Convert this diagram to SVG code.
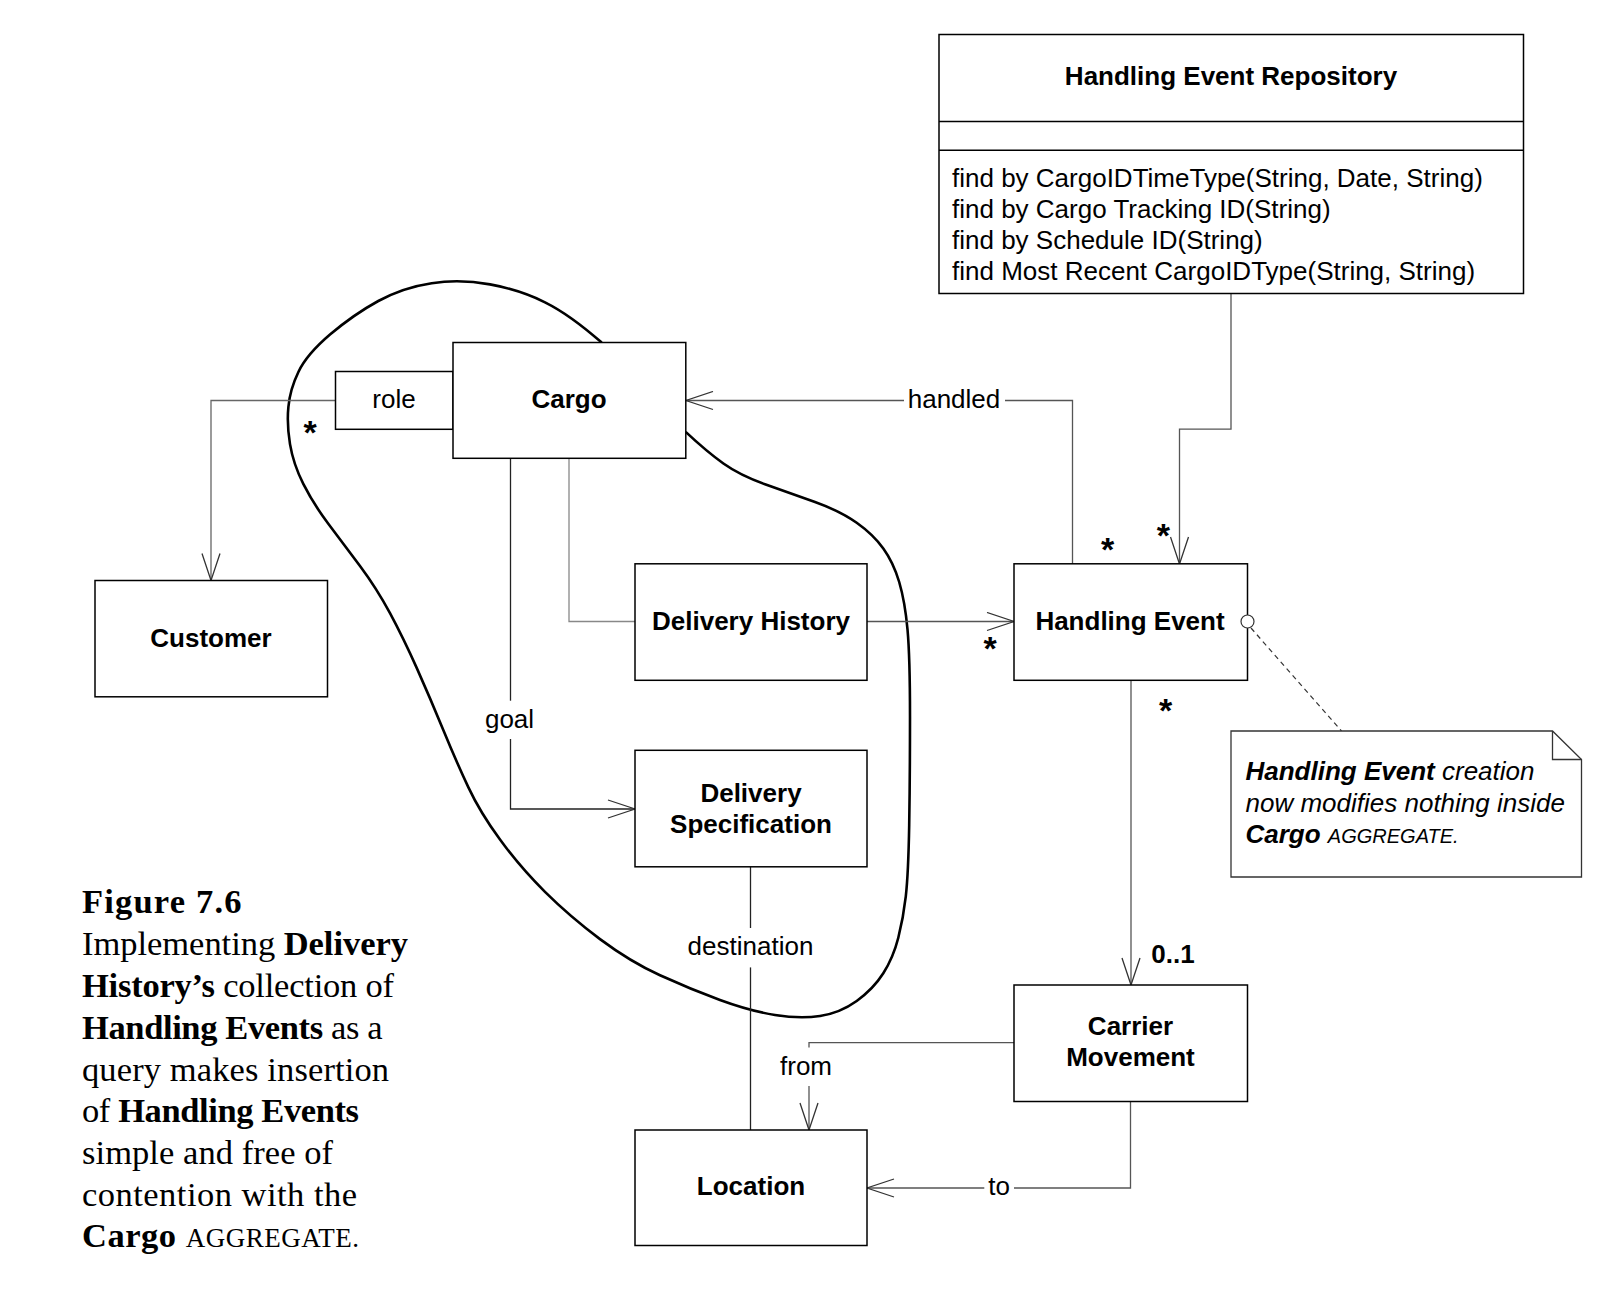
<svg xmlns="http://www.w3.org/2000/svg" width="1614" height="1292" viewBox="0 0 1614 1292">
<defs>
<style>
.box{fill:#fff;stroke:#000;stroke-width:1.5}
.lbl{font-family:"Liberation Sans",Arial,sans-serif;font-size:26px;fill:#000}
.b{font-weight:bold}
.mid{text-anchor:middle}
.star{font-family:"Liberation Sans",Arial,sans-serif;font-size:34px;font-weight:bold;text-anchor:middle;fill:#000}
.con{fill:none;stroke:#555;stroke-width:1.3}
.dk{stroke:#222}
.lt{stroke:#888}
.cap{font-family:"Liberation Serif","Times New Roman",serif;font-size:34.5px;fill:#000}
</style>
<marker id="arr" markerUnits="userSpaceOnUse" viewBox="0 0 30 20" refX="28" refY="10" markerWidth="30" markerHeight="20" orient="auto">
<path d="M1,1 L28,10 L1,19" fill="none" stroke="#333" stroke-width="1.3"/>
</marker>
</defs>
<rect width="1614" height="1292" fill="#fff"/>

<g id="aggregate-boundary">
<path d="M601.7,342.6 Q570,314.7 545,302.3 Q520,289.9 490,284.4 Q460,278.9 431.7,283.2 Q403.3,287.4 378.3,301 Q353.3,314.7 330,334.6 Q306.7,354.5 298.4,372 Q290,389.4 288.4,406.8 Q286.7,424.2 290,444.1 Q293.3,464 303.3,483.9 Q313.3,503.8 328.3,523.7 Q343.3,543.6 360,566 Q376.7,588.4 390,613.2 Q403.3,638 416.7,667.9 Q430,697.8 443.4,730.2 Q456.7,762.5 468.4,787.4 Q480,812.2 500,839.6 Q520,867 545,891.9 Q570,916.7 600,939.1 Q630,961.5 660,975.3 Q690,989 720,1000 Q750,1011 775,1015 Q800,1019 820,1016 Q840,1013 856.7,1001 Q873.3,989 883.3,973.3 Q893.3,957.5 898.3,937.8 Q903.3,918 905.8,896.3 Q908.3,874.5 909.2,825.1 Q910,775.7 910,716.4 Q910,657 907.5,629.4 Q905,601.8 899.2,582 Q893.3,562.3 883.3,548.5 Q873.3,534.6 856.7,522.8 Q840,511 815,502 Q790,493 765,484.2 Q740,475.3 723.4,463.5 Q706.7,451.6 685.7,431.9" fill="none" stroke="#000" stroke-width="2.6"/>
</g>

<g id="connectors">
<path class="con" style="stroke:#666" d="M335.5,400.5 H211 V580.5" marker-end="url(#arr)"/>
<path class="con dk" d="M510.5,458 V700.7"/>
<path class="con dk" d="M510.5,739 V809 H635" marker-end="url(#arr)"/>
<path class="con lt" d="M569,458 V621.5 H635"/>
<path class="con" d="M867,621.5 H1014" marker-end="url(#arr)"/>
<path class="con" d="M1072.5,564 V400.5 H1005"/>
<path class="con" d="M904,400.5 H686" marker-end="url(#arr)"/>
<path class="con" d="M1231,293.3 V429.2 H1179.5 V564" marker-end="url(#arr)"/>
<path class="con" d="M1131,680.4 V985" marker-end="url(#arr)"/>
<path class="con dk" d="M750.5,866.7 V928"/>
<path class="con dk" d="M750.5,967.4 V1130"/>
<path class="con" d="M1014,1042.7 H809 V1047.5"/>
<path class="con" d="M809,1086 V1130" marker-end="url(#arr)"/>
<path class="con" d="M1130.5,1101.4 V1188 H1014"/>
<path class="con" d="M984.3,1188 H867" marker-end="url(#arr)"/>
<path d="M1251,628 L1341.5,731" fill="none" stroke="#333" stroke-width="1.2" stroke-dasharray="5,4"/>

<text class="lbl mid" x="954" y="408">handled</text>
<text class="lbl mid" x="509.5" y="728">goal</text>
<text class="lbl mid" x="750.5" y="955">destination</text>
<text class="lbl mid" x="806" y="1075">from</text>
<text class="lbl mid" x="999" y="1195">to</text>
<text class="lbl b mid" x="1173" y="963">0..1</text>
<text class="star" x="310" y="443.5">*</text>
<text class="star" x="1107.5" y="561">*</text>
<text class="star" x="1163.3" y="546.5">*</text>
<text class="star" x="990" y="659.5">*</text>
<text class="star" x="1165.5" y="721.7">*</text>
</g>

<g id="handling-event-repository">
<rect class="box" x="939" y="34.5" width="584.5" height="259"/>
<line x1="939" y1="121.5" x2="1523.5" y2="121.5" stroke="#000" stroke-width="1.5"/>
<line x1="939" y1="150.3" x2="1523.5" y2="150.3" stroke="#000" stroke-width="1.5"/>
<text class="lbl b mid" x="1231" y="85">Handling Event Repository</text>
<text class="lbl" x="952" y="186.5">find by CargoIDTimeType(String, Date, String)</text>
<text class="lbl" x="952" y="217.5">find by Cargo Tracking ID(String)</text>
<text class="lbl" x="952" y="249">find by Schedule ID(String)</text>
<text class="lbl" x="952" y="279.5">find Most Recent CargoIDType(String, String)</text>
</g>

<g id="role">
<rect class="box" x="335.5" y="371.5" width="117.5" height="57.8"/>
<text class="lbl mid" x="394" y="407.5">role</text>
</g>

<g id="cargo">
<rect class="box" x="453" y="342.5" width="232.8" height="115.8"/>
<text class="lbl b mid" x="569" y="407.5">Cargo</text>
</g>

<g id="customer">
<rect class="box" x="95" y="580.5" width="232.5" height="116.3"/>
<text class="lbl b mid" x="211" y="647">Customer</text>
</g>

<g id="delivery-history">
<rect class="box" x="635" y="563.8" width="232" height="116.5"/>
<text class="lbl b mid" x="751" y="630">Delivery History</text>
</g>

<g id="delivery-specification">
<rect class="box" x="635" y="750.3" width="232" height="116.5"/>
<text class="lbl b mid" x="751" y="802">Delivery</text>
<text class="lbl b mid" x="751" y="833">Specification</text>
</g>

<g id="handling-event">
<rect class="box" x="1014" y="563.8" width="233.5" height="116.5"/>
<text class="lbl b mid" x="1130" y="630">Handling Event</text>
<circle cx="1247.5" cy="621.5" r="6.5" fill="#fff" stroke="#333" stroke-width="1.2"/>
</g>

<g id="carrier-movement">
<rect class="box" x="1014" y="985" width="233.5" height="116.5"/>
<text class="lbl b mid" x="1130.5" y="1034.5">Carrier</text>
<text class="lbl b mid" x="1130.5" y="1065.5">Movement</text>
</g>

<g id="location">
<rect class="box" x="635" y="1130" width="232" height="115.5"/>
<text class="lbl b mid" x="751" y="1195">Location</text>
</g>

<g id="note">
<path d="M1231,731 H1552.5 L1581.5,759.5 V877 H1231 Z" fill="#fff" stroke="#333" stroke-width="1.3"/>
<path d="M1552.5,731 V759.5 H1581.5" fill="none" stroke="#333" stroke-width="1.3"/>
<text class="lbl" x="1245.5" y="780" font-style="italic"><tspan font-weight="bold">Handling Event</tspan> creation</text>
<text class="lbl" x="1245.5" y="812" font-style="italic">now modifies nothing inside</text>
<text class="lbl" x="1245.5" y="843" font-style="italic"><tspan font-weight="bold">Cargo</tspan> <tspan font-size="20">AGGREGATE.</tspan></text>
</g>

<g id="caption">
<text class="cap" x="82" y="913" font-weight="bold" font-size="39" textLength="159.5">Figure 7.6</text>
<text class="cap" x="82" y="955" textLength="326">Implementing <tspan font-weight="bold">Delivery</tspan></text>
<text class="cap" x="82" y="997" textLength="312"><tspan font-weight="bold">History’s</tspan> collection of</text>
<text class="cap" x="82" y="1039" textLength="300.5"><tspan font-weight="bold">Handling Events</tspan> as a</text>
<text class="cap" x="82" y="1080.5" textLength="307">query makes insertion</text>
<text class="cap" x="82" y="1122" textLength="277">of <tspan font-weight="bold">Handling Events</tspan></text>
<text class="cap" x="82" y="1164" textLength="251">simple and free of</text>
<text class="cap" x="82" y="1205.5" textLength="275">contention with the</text>
<text class="cap" x="82" y="1247" textLength="277"><tspan font-weight="bold">Cargo</tspan> <tspan font-size="27">AGGREGATE.</tspan></text>
</g>
</svg>
